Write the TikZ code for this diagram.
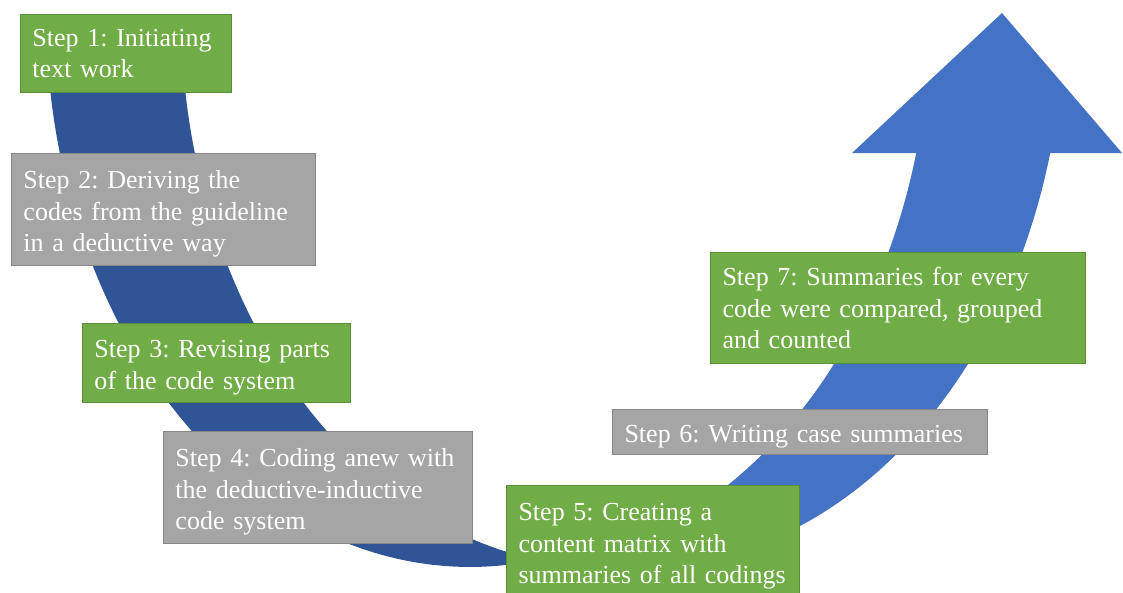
\documentclass[tikz,border=0pt]{standalone}
\usepackage{fontspec}
\setmainfont{Liberation Serif}
\usepackage{tikz}
\usetikzlibrary{calc}

\definecolor{stepgreen}{HTML}{70AD47}
\definecolor{stepgreenline}{HTML}{5A8F39}
\definecolor{stepgray}{HTML}{A5A5A5}
\definecolor{stepgrayline}{HTML}{878787}
\definecolor{banddark}{HTML}{2F5597}
\definecolor{bandlight}{HTML}{4472C4}

\tikzset{
  stepbox/.style={draw, line width=0.7pt, anchor=north west, align=left,
      inner xsep=0.3cm, inner ysep=0pt, text=white,
      font=\fontsize{18.5}{22.7}\selectfont\frenchspacing},
  lowered/.style={execute at begin node=\rule{0pt}{19pt}},
  greenstep/.style={stepbox, fill=stepgreen, draw=stepgreenline},
  graystep/.style={stepbox, fill=stepgray, draw=stepgrayline},
}

\begin{document}
\begin{tikzpicture}[x=0.025cm, y=-0.025cm]
  \useasboundingbox (0,0) rectangle (1123,592);

  % back of the curved arrow
  \fill[banddark] plot[domain=5:99.16, samples=60] ({470-424*cos(\x)}, {13+554*sin(\x)})
      -- plot[domain=80.84:5, samples=60] ({605-424*cos(\x)}, {13+554*sin(\x)}) -- cycle;

  % front of the curved arrow with its head
  \fill[bandlight] plot[domain=99.1:14.64, samples=60] ({640+424*cos(\x)}, {13+554*sin(\x)})
      -- (1122,153) -- (1002,13) -- (852,153)
      -- plot[domain=14.64:80.9, samples=60] ({506+424*cos(\x)}, {13+554*sin(\x)}) -- cycle;

  \node[greenstep, text width=4.675cm, minimum height=1.95cm] (s1) at (20,14)
      {Step 1: Initiating\\text work};
  \node[graystep, lowered, text width=7.0cm, minimum height=2.8cm] (s2) at (11,153)
      {Step 2: Deriving the\\codes from the guideline\\in a deductive way};
  \node[greenstep, lowered, text width=6.1cm, minimum height=1.975cm] (s3) at (82,323)
      {Step 3: Revising parts\\of the code system};
  \node[graystep, lowered, text width=7.125cm, minimum height=2.8cm] (s4) at (163,431)
      {Step 4: Coding anew with\\the deductive-inductive\\code system};
  \node[greenstep, lowered, text width=6.725cm, minimum height=2.8cm] (s5) at (506,485)
      {Step 5: Creating a\\content matrix with\\summaries of all codings};
  \node[graystep, lowered, text width=8.775cm, minimum height=1.125cm] (s6) at (612,409)
      {Step 6: Writing case summaries};
  \node[greenstep, text width=8.775cm, minimum height=2.775cm] (s7) at (710,252)
      {Step 7: Summaries for every\\code were compared, grouped\\and counted};
\end{tikzpicture}
\end{document}
